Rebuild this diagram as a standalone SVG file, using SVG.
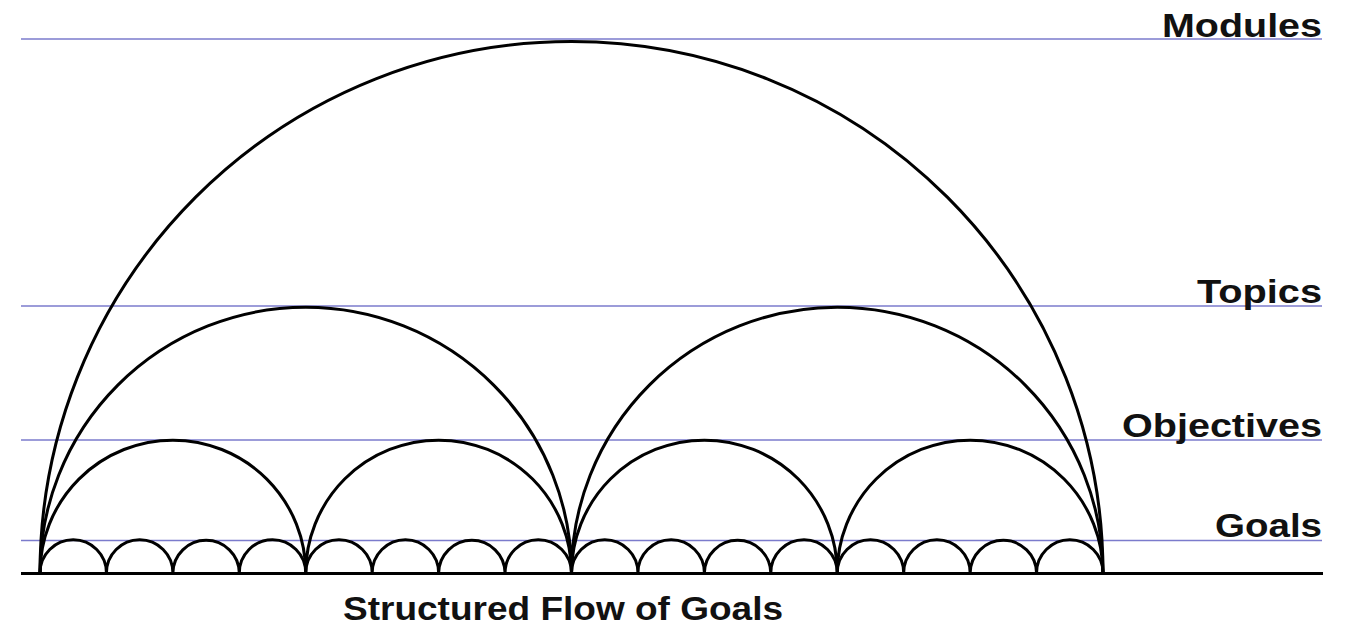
<svg xmlns="http://www.w3.org/2000/svg" width="1351" height="625" viewBox="0 0 1351 625">
<style>
.lvl{stroke:#7b7bcc;stroke-width:1.6;fill:none}
.arc{stroke:#000;stroke-width:3;fill:none}
.base{stroke:#000;stroke-width:3.2}
.lab{font-family:"Liberation Sans",Arial,sans-serif;font-weight:bold;font-size:34px;fill:#111}
</style>
<rect width="1351" height="625" fill="#fff"/>
<g id="levels">
<line class="lvl" x1="21" y1="39" x2="1322" y2="39"/>
<line class="lvl" x1="21" y1="306" x2="1322" y2="306"/>
<line class="lvl" x1="21" y1="440" x2="1322" y2="440"/>
<line class="lvl" x1="21" y1="540.5" x2="1322" y2="540.5"/>
</g>
<g id="modules-arc">
<path class="arc" d="M40,573 A531.5,531.5 0 0 1 1103,573"/>
</g>
<g id="topics-arcs">
<path class="arc" d="M40,573 A265.75,265.75 0 0 1 571.5,573 A265.75,265.75 0 0 1 1103,573"/>
</g>
<g id="objectives-arcs">
<path class="arc" d="M40,573 A132.875,132.875 0 0 1 305.75,573 A132.875,132.875 0 0 1 571.5,573 A132.875,132.875 0 0 1 837.25,573 A132.875,132.875 0 0 1 1103,573"/>
</g>
<g id="goals-arcs">
<path class="arc" d="M40,573 A33.22,33.22 0 0 1 106.44,573 A33.22,33.22 0 0 1 172.88,573 A33.22,33.22 0 0 1 239.31,573 A33.22,33.22 0 0 1 305.75,573 A33.22,33.22 0 0 1 372.19,573 A33.22,33.22 0 0 1 438.63,573 A33.22,33.22 0 0 1 505.06,573 A33.22,33.22 0 0 1 571.5,573 A33.22,33.22 0 0 1 637.94,573 A33.22,33.22 0 0 1 704.38,573 A33.22,33.22 0 0 1 770.81,573 A33.22,33.22 0 0 1 837.25,573 A33.22,33.22 0 0 1 903.69,573 A33.22,33.22 0 0 1 970.13,573 A33.22,33.22 0 0 1 1036.56,573 A33.22,33.22 0 0 1 1103,573"/>
</g>
<g id="baseline">
<line class="base" x1="21" y1="573.5" x2="1323" y2="573.5"/>
</g>
<g id="labels">
<text class="lab" x="1162" y="37" textLength="160" lengthAdjust="spacingAndGlyphs">Modules</text>
<text class="lab" x="1197" y="303" textLength="125" lengthAdjust="spacingAndGlyphs">Topics</text>
<text class="lab" x="1122" y="437" textLength="200" lengthAdjust="spacingAndGlyphs">Objectives</text>
<text class="lab" x="1215" y="537" textLength="107" lengthAdjust="spacingAndGlyphs">Goals</text>
<text class="lab" x="343" y="620" textLength="440" lengthAdjust="spacingAndGlyphs">Structured Flow of Goals</text>
</g>
</svg>
